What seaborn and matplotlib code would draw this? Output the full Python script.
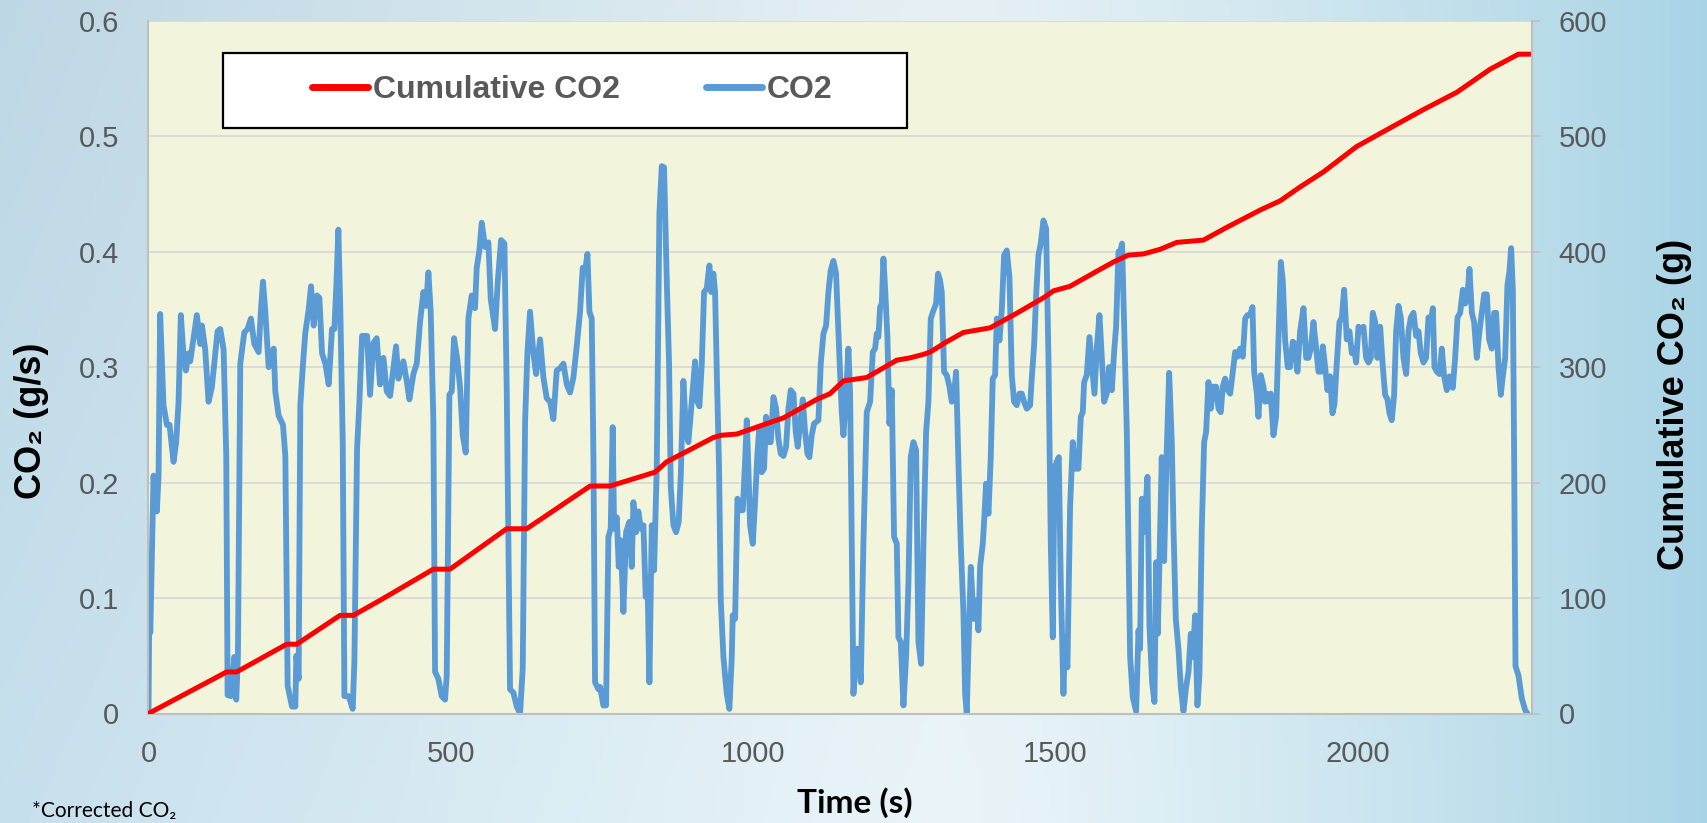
import numpy as np
import pandas as pd
import matplotlib
matplotlib.use("Agg")
import matplotlib.pyplot as plt
from matplotlib.patches import Rectangle
from matplotlib.lines import Line2D
import seaborn as sns

# ---------------- data ----------------
# CO2 rate (g/s) vs time (s): (time, value)
co2_points = [
    (0, 0), (1.2, 0.083), (3, 0.07), (8.3, 0.206), (13.8, 0.175), (16.6, 0.205), (19.3, 0.346), (24.8, 0.267),
    (30.4, 0.25), (34.8, 0.25), (41.4, 0.218), (45.8, 0.235), (49.7, 0.27), (53.5, 0.345), (57.9, 0.31),
    (61.8, 0.297), (66.2, 0.312), (69, 0.305), (74.5, 0.325), (80, 0.345), (85.5, 0.32), (88.3, 0.336),
    (93.8, 0.315), (99.3, 0.27), (104.9, 0.283), (108.7, 0.303), (114.2, 0.331), (118.7, 0.333), (124.2, 0.315),
    (128.6, 0.223), (130.8, 0.016), (136.3, 0.015), (141.8, 0.049), (145.1, 0.012), (147.9, 0.05), (151.8, 0.303),
    (158.4, 0.33), (163.9, 0.333), (169.4, 0.342), (175, 0.32), (182.1, 0.313), (186, 0.35), (189.3, 0.374),
    (193.2, 0.348), (198.7, 0.30), (202.5, 0.303), (207, 0.316), (209.7, 0.279), (215.2, 0.258), (222.4, 0.25),
    (226.3, 0.223), (230.1, 0.024), (237.3, 0.006), (242.8, 0.006), (244.5, 0.05), (248.3, 0.03), (251.1, 0.267),
    (255.5, 0.303), (259.4, 0.33), (264.9, 0.35), (268.8, 0.37), (273.2, 0.336), (278.7, 0.362), (282.6, 0.36),
    (287, 0.312), (292.5, 0.303), (298, 0.285), (303.5, 0.333), (307.4, 0.333), (310.7, 0.371), (314, 0.419),
    (317.3, 0.348), (321.2, 0.235), (324, 0.015), (331.1, 0.015), (337.7, 0.004), (340.5, 0.045), (344.9, 0.229),
    (348.8, 0.27), (353.2, 0.327), (361.5, 0.327),
    (366.4, 0.276), (371.9, 0.321), (377.4, 0.325), (382.9, 0.285), (388.5, 0.308), (394, 0.279), (399.5, 0.275),
    (403.9, 0.294), (409.4, 0.318), (413.3, 0.29), (421.5, 0.305), (427, 0.288), (431.5, 0.272), (438.1, 0.294),
    (443.6, 0.303), (449.1, 0.339), (454.6, 0.365), (459, 0.353), (462.9, 0.382), (466.7, 0.348), (471.1, 0.253),
    (473.9, 0.036), (479.4, 0.03), (484.9, 0.015), (490.4, 0.012), (493.2, 0.033), (497.6, 0.276), (501.5, 0.279),
    (505.3, 0.325), (510.8, 0.306), (515.3, 0.282), (519.7, 0.241), (524.6, 0.226), (529, 0.342), (534.5, 0.362),
    (540, 0.351), (542.8, 0.386), (547.2, 0.401), (551.1, 0.425), (556.6, 0.404), (562.1, 0.408), (566, 0.359),
    (573.1, 0.333), (577.6, 0.374), (583.1, 0.41), (588.6, 0.407), (592.4, 0.282), (597.9, 0.021), (603.5, 0.018),
    (609, 0.006), (614.5, 0.0), (618.9, 0.039), (622.8, 0.253), (626.6, 0.312), (631, 0.348), (636.5, 0.312),
    (641, 0.294), (647.6, 0.324), (653.1, 0.291), (658.6, 0.273), (664.1, 0.27), (669.6, 0.255), (675.1, 0.297),
    (680.6, 0.299), (686.2, 0.303), (691.7, 0.285), (697.2, 0.278), (702.7, 0.291), (708.2, 0.318), (713.7, 0.348),
    (718.1, 0.386), (722, 0.383), (725.9, 0.398), (729.2, 0.348), (733, 0.342), (735.8, 0.223), (738.5, 0.027),
    (744.1, 0.021),
    (746.8, 0.023), (752.3, 0.007), (756.7, 0.007), (760.6, 0.153), (764.4, 0.16), (767.7, 0.248), (770, 0.16),
    (774.4, 0.17), (777.7, 0.127), (781, 0.15), (785.4, 0.088), (789.8, 0.157), (795.3, 0.166), (799.2, 0.127),
    (801.9, 0.183), (806.3, 0.157), (810.2, 0.175), (814.1, 0.16), (818.5, 0.163), (822.3, 0.101), (825.1, 0.118),
    (828.4, 0.027), (832.3, 0.163), (836.1, 0.124), (840.5, 0.212), (844.9, 0.433), (848.8, 0.474), (852.6, 0.473),
    (857.1, 0.375), (860.9, 0.303), (863.7, 0.196), (868.1, 0.163), (872.5, 0.157), (876.9, 0.166), (880.2, 0.205),
    (884.6, 0.288), (889, 0.244), (892.9, 0.235), (898.4, 0.27), (903.9, 0.305), (907.8, 0.27), (911.1, 0.266),
    (915, 0.303), (918.8, 0.365), (923.2, 0.368), (927.6, 0.388), (930.4, 0.365), (934.2, 0.381), (937, 0.365),
    (939.8, 0.296), (943.6, 0.212), (946.4, 0.098), (950.8, 0.049), (956.3, 0.017), (960.7, 0.004), (964.6, 0.049),
    (966.2, 0.085), (970.1, 0.082), (974, 0.186), (978.3, 0.176), (982.8, 0.176), (986.6, 0.218), (989.4, 0.254),
    (992.1, 0.212), (994.9, 0.163), (999.3, 0.147), (1003.1, 0.183), (1007, 0.225), (1010.3, 0.248), (1014.2, 0.209),
    (1018, 0.212), (1021.3, 0.257), (1025.2, 0.235), (1029.1, 0.235), (1033.5, 0.274), (1037.9, 0.264),
    (1041.7, 0.238), (1045.6, 0.225), (1050, 0.223), (1054.4, 0.231), (1058.3, 0.264), (1062.1, 0.28),
    (1066.6, 0.277), (1070.4, 0.244), (1073.7, 0.231), (1077.6, 0.251), (1082, 0.272), (1085.8, 0.244),
    (1089.7, 0.225), (1093, 0.222), (1096.9, 0.241), (1100.7, 0.251), (1107.9, 0.254), (1111.8, 0.303),
    (1116.2, 0.329), (1120.6, 0.336), (1124.4, 0.365), (1128.3, 0.384), (1132.7, 0.392), (1137.1, 0.381),
    (1142.6, 0.309), (1146.5, 0.261), (1149.3, 0.241), (1153.7, 0.277), (1157.5, 0.316), (1160.3, 0.277),
    (1163, 0.147), (1165.8, 0.017), (1170.2, 0.056), (1174.1, 0.056), (1177.9, 0.027), (1182.3, 0.147),
    (1187.8, 0.261), (1193.4, 0.27), (1197.8, 0.313), (1201.6, 0.316), (1204.4, 0.329), (1207.1, 0.326),
    (1209.9, 0.352), (1212.7, 0.355), (1215.4, 0.394), (1218.2, 0.368), (1222, 0.326), (1225.3, 0.251),
    (1229.2, 0.28), (1233, 0.153), (1237.5, 0.147), (1240.2, 0.066), (1244.1, 0.062), (1248.5, 0.007),
    (1252.9, 0.049), (1256.8, 0.114), (1260.6, 0.222), (1265, 0.235), (1269.4, 0.228), (1273.3, 0.062),
    (1277.7, 0.043), (1281.6, 0.147), (1286, 0.244), (1289.8, 0.27), (1293.7, 0.342), (1298.1, 0.349),
    (1302.5, 0.355), (1305.8, 0.381), (1309.1, 0.375), (1311.9, 0.365), (1315.7, 0.296), (1320.2, 0.293),
    (1324.6, 0.283), (1328.4, 0.27), (1332.3, 0.277), (1335.6, 0.296), (1339.4, 0.218), (1343.3, 0.147),
    (1347.7, 0.088), (1350.5, 0.017), (1353.2, 0.0), (1356, 0.056), (1359.9, 0.127), (1364.3, 0.082),
    (1368.7, 0.098), (1372.5, 0.072), (1375.3, 0.127), (1379.7, 0.147), (1381.9, 0.166), (1385.2, 0.199),
    (1389.1, 0.173), (1392.9, 0.222), (1396.2, 0.29), (1400.1, 0.293), (1402.9, 0.342), (1407.3, 0.323),
    (1411.1, 0.349), (1415, 0.397), (1419.4, 0.401), (1423.8, 0.378), (1427.7, 0.293), (1431.5, 0.27),
    (1435.9, 0.267), (1440.3, 0.277), (1444.2, 0.277), (1448, 0.27), (1452.5, 0.264), (1458, 0.267),
    (1460.7, 0.29), (1464.6, 0.319), (1467.9, 0.362), (1471.8, 0.397), (1475.6, 0.407), (1480, 0.427),
    (1484.4, 0.42), (1488.3, 0.309), (1492.2, 0.147), (1495.5, 0.066), (1498.2, 0.212), (1502.1, 0.218),
    (1505.4, 0.222), (1508.7, 0.114),
    (1513.1, 0.017), (1515.9, 0.066), (1519.7, 0.04), (1524.1, 0.179), (1528.5, 0.235), (1532.4, 0.212),
    (1537.9, 0.212), (1541.8, 0.257), (1545.1, 0.261), (1547.3, 0.287), (1551.7, 0.293), (1556.1, 0.326),
    (1560, 0.303), (1564.4, 0.277), (1568.2, 0.316), (1572.7, 0.345), (1576.5, 0.309), (1580.4, 0.27),
    (1584.8, 0.277), (1588.6, 0.3), (1593.1, 0.28), (1596.9, 0.313), (1600.2, 0.335), (1604.1, 0.4),
    (1606.8, 0.4), (1610.1, 0.407), (1613.5, 0.335), (1617.9, 0.244), (1620.6, 0.147), (1623.4, 0.049),
    (1627.8, 0.014), (1633.3, 0.002), (1637.2, 0.072), (1639.9, 0.056), (1642.7, 0.186), (1646.5, 0.157),
    (1652.1, 0.205), (1655.4, 0.075), (1659.8, 0.027), (1663.6, 0.01), (1666.4, 0.131), (1669.1, 0.069),
    (1671.9, 0.131), (1675.7, 0.222), (1679.6, 0.132), (1684, 0.228), (1687.9, 0.295), (1692.3, 0.235),
    (1695, 0.163), (1698.9, 0.082), (1703.3, 0.056), (1707.2, 0.023), (1711.6, 0.002), (1716, 0.023),
    (1719.9, 0.036), (1723.7, 0.069), (1727, 0.049), (1730.9, 0.085), (1734.7, 0.007), (1738, 0.033),
    (1741.9, 0.16), (1745.8, 0.235), (1749.1, 0.244), (1752.9, 0.287), (1756.8, 0.264), (1761.2, 0.283),
    (1765.6, 0.283), (1769.5, 0.264), (1773.3, 0.261), (1776.6, 0.283), (1780.5, 0.29), (1784.9, 0.28),
    (1788.8, 0.277), (1792.6, 0.293), (1797, 0.313), (1800.9, 0.309), (1805.3, 0.316), (1809.7, 0.309),
    (1813.6, 0.342), (1817.4, 0.345), (1821.8, 0.345), (1825.7, 0.352), (1828.5, 0.296), (1832.9, 0.277),
    (1835.6, 0.257), (1839.5, 0.293), (1843.9, 0.283), (1846.6, 0.27), (1849.4, 0.277), (1853.8, 0.27),
    (1856, 0.277), (1860.4, 0.241), (1864.8, 0.257), (1868.7, 0.323), (1872.6, 0.391), (1875.9, 0.375),
    (1879.7, 0.323), (1884.1, 0.3),
    (1888, 0.3), (1892.4, 0.322), (1896.3, 0.32), (1900.1, 0.296), (1904.5, 0.331), (1910.1, 0.351),
    (1914.5, 0.308), (1918.3, 0.308), (1922.2, 0.316), (1926.6, 0.339), (1931, 0.316), (1934.9, 0.296),
    (1938.7, 0.296), (1942, 0.318), (1945.9, 0.3), (1949.7, 0.28), (1954.2, 0.292), (1958, 0.26),
    (1961.3, 0.268), (1965.2, 0.304), (1969.6, 0.339), (1973.5, 0.343), (1977.3, 0.367), (1981.7, 0.324),
    (1986.1, 0.331), (1990, 0.312), (1993.8, 0.316), (1997.2, 0.304), (2001, 0.335), (2004.9, 0.331),
    (2009.3, 0.335), (2013.7, 0.308), (2017.6, 0.304), (2021.4, 0.308), (2024.7, 0.347), (2028.6, 0.339),
    (2032.4, 0.308), (2036.9, 0.335), (2041.3, 0.3), (2045.1, 0.276), (2049, 0.272), (2052.3, 0.26),
    (2056.1, 0.254), (2060, 0.276), (2063.3, 0.331), (2067.2, 0.353), (2071, 0.343), (2075.4, 0.308),
    (2079.9, 0.294), (2083.7, 0.331), (2087.6, 0.343), (2092, 0.347), (2096.4, 0.327), (2100.3, 0.331),
    (2104.1, 0.312), (2108.5, 0.304), (2112.9, 0.308), (2116.8, 0.343), (2120.6, 0.339), (2124, 0.351),
    (2126.7, 0.3), (2130.6, 0.296), (2135, 0.294), (2138.8, 0.316), (2142.7, 0.292), (2147.1, 0.28),
    (2151.5, 0.292), (2157, 0.282), (2160.9, 0.308), (2164.8, 0.343), (2169.2, 0.347), (2173.6, 0.367),
    (2177.4, 0.355), (2181.3, 0.363), (2184.6, 0.385), (2188.5, 0.347), (2192.3, 0.339), (2196.7, 0.308),
    (2201.1, 0.331), (2205, 0.347), (2208.9, 0.363), (2213.3, 0.363), (2217.1, 0.324), (2221.5, 0.316),
    (2225.4, 0.347), (2228.7, 0.347), (2232.6, 0.3), (2236.4, 0.276), (2239.7, 0.292), (2243.6, 0.308),
    (2247.4, 0.371), (2250.7, 0.383), (2253.5, 0.403), (2256.3, 0.367), (2258.5, 0.22), (2260.7, 0.041),
    (2265.6, 0.033), (2271.2, 0.013), (2276.7, 0.003), (2280.5, 0.0),
]

# Cumulative CO2 (g) vs time (s): (time, value)
cumulative_points = [
    (0, 0), (129.3, 36), (145.8, 36), (228.5, 60), (245.1, 60), (316.7, 85), (338.8, 85), (382.9, 98),
    (471.1, 125), (498.7, 125), (592.4, 160), (625.5, 160), (730.3, 197), (763.3, 197), (837.8, 209),
    (857.1, 218), (934.2, 239), (948, 241), (972.8, 242), (1050, 256), (1105.1, 272), (1127.2, 277),
    (1149.3, 288), (1187.8, 291), (1237.5, 306), (1259.5, 308), (1281.6, 311), (1292.6, 313), (1320.2, 322),
    (1347.7, 330), (1391.8, 334), (1430.4, 345), (1480, 360), (1496.6, 366), (1524.1, 370), (1568.2, 383),
    (1595.8, 391), (1620.6, 397), (1645.4, 398), (1673, 402), (1700.6, 408), (1744.7, 410), (1783.2, 421),
    (1838.4, 436), (1871.5, 444), (1904.5, 456), (1943, 469), (1998, 491), (2053, 507), (2108.5, 523),
    (2163.7, 538), (2218.8, 558), (2265.6, 571), (2288, 571),
]

x_ticks = [0, 500, 1000, 1500, 2000]
left_ticks = [0, 0.1, 0.2, 0.3, 0.4, 0.5, 0.6]
right_ticks = [0, 100, 200, 300, 400, 500, 600]
series_labels = ["Cumulative CO2", "CO2"]

co2_df = pd.DataFrame(co2_points, columns=["Time", "CO2"])
cum_df = pd.DataFrame(cumulative_points, columns=["Time", "Cumulative"])

# ---------------- style ----------------
sns.set_theme(style="white")
plt.rcParams["font.family"] = ["Liberation Sans", "DejaVu Sans"]

W, H = 1708, 823
fig = plt.figure(figsize=(W / 100, H / 100), dpi=100)

# watercolor-like light blue background
gy, gx = np.mgrid[0:1:200j, 0:1:400j]
left_c = np.array([0.78, 0.88, 0.93])
mid_c = np.array([0.92, 0.96, 0.975])
right_c = np.array([0.66, 0.83, 0.90])
wl = np.clip(1 - gx / 0.55, 0, 1)[..., None]
wr = np.clip((gx - 0.55) / 0.45, 0, 1)[..., None] ** 1.3
img = mid_c * (1 - wl - wr) + left_c * wl + right_c * wr
img = img - 0.035 * (1 - gy)[..., None] * (1 - gx)[..., None]
img = np.clip(img, 0, 1)
bg = fig.add_axes([0, 0, 1, 1])
bg.imshow(img, aspect="auto", extent=[0, 1, 0, 1], origin="upper")
bg.axis("off")

px0, px1, py0, py1 = 148.5, 1532.0, 20.7, 713.5
ax = fig.add_axes([px0 / W, 1 - py1 / H, (px1 - px0) / W, (py1 - py0) / H])
ax.set_facecolor("#F2F5DB")
ax2 = ax.twinx()

sns.lineplot(data=co2_df, x="Time", y="CO2", ax=ax, color="#5B9BD5", lw=4.2,
             estimator=None, sort=False, legend=False,
             solid_joinstyle="round", solid_capstyle="round")
sns.lineplot(data=cum_df, x="Time", y="Cumulative", ax=ax2, color="#FF0000", lw=3.6,
             estimator=None, sort=False, legend=False,
             solid_joinstyle="round", solid_capstyle="round")

ax.set_xlim(0, 2288)
ax.set_ylim(0, 0.6)
ax2.set_ylim(0, 600)
ax.set_xticks(x_ticks)
ax.set_xticklabels([str(v) for v in x_ticks])
ax.set_yticks(left_ticks)
ax.set_yticklabels(["0" if v == 0 else f"{v:.1f}" for v in left_ticks])
ax2.set_yticks(right_ticks)
ax2.set_yticklabels([str(v) for v in right_ticks])
ax.set_xlabel("")
ax.set_ylabel("")
ax2.set_ylabel("")

ax.yaxis.grid(True, color="#D9D9D9", lw=1.3)
ax.xaxis.grid(False)
ax.set_axisbelow(True)
ax2.grid(False)

tick_color = "#595959"
ax.tick_params(axis="y", length=0, pad=21, labelsize=21, labelcolor=tick_color)
ax.tick_params(axis="x", length=0, pad=19, labelsize=21, labelcolor=tick_color)
ax2.tick_params(axis="y", direction="out", length=6, width=1.2, color="#BFBFBF",
                pad=13, labelsize=21, labelcolor=tick_color)

for s in ["left", "bottom"]:
    ax.spines[s].set_color("#BFBFBF")
    ax.spines[s].set_linewidth(1.5)
ax.spines["top"].set_visible(False)
ax.spines["right"].set_visible(False)
for s in ["left", "bottom", "top"]:
    ax2.spines[s].set_visible(False)
ax2.spines["right"].set_color("#BFBFBF")
ax2.spines["right"].set_linewidth(1.5)

# legend box
bx0, bx1, by0, by1 = 223, 907, 53, 128
rect = Rectangle(((bx0 - px0) / (px1 - px0), (py1 - by1) / (py1 - py0)),
                 (bx1 - bx0) / (px1 - px0), (by1 - by0) / (py1 - py0),
                 transform=ax2.transAxes, facecolor="white", edgecolor="black",
                 lw=1.6, zorder=5)
ax2.add_patch(rect)
handles = [Line2D([], [], color="#FF0000", lw=5, solid_capstyle="round"),
           Line2D([], [], color="#5B9BD5", lw=5, solid_capstyle="round")]
leg = ax2.legend(handles, series_labels, loc="center", ncol=2, frameon=False,
                 bbox_to_anchor=(((310 + 835) / 2 - px0) / (px1 - px0), (py1 - 90.5) / (py1 - py0)),
                 prop={"family": ["Liberation Sans", "DejaVu Sans"], "weight": "bold", "size": 23},
                 labelcolor="#595959", handlelength=1.75, handletextpad=0.15, columnspacing=2.7)
leg.set_zorder(6)

title_font = ["Liberation Sans", "DejaVu Sans"]
fig.text(32 / W, 1 - 421 / H, "CO₂ (g/s)", rotation=90, ha="center", va="center",
         fontsize=26, fontweight="bold", color="black", family=title_font)
fig.text(1675 / W, 1 - 404 / H, "Cumulative CO₂ (g)", rotation=90, ha="center", va="center",
         fontsize=26, fontweight="bold", color="black", family=title_font)
fig.text(855 / W, 1 - 803 / H, "Time (s)", ha="center", va="center",
         fontsize=24, fontweight="bold", color="black", family=["Lato", "DejaVu Sans"])
fig.text(32 / W, 2 / H, "*Corrected CO₂", ha="left", va="bottom",
         fontsize=15, color="black", family=["Lato", "DejaVu Sans"])

fig.savefig("out.png", dpi=100)
